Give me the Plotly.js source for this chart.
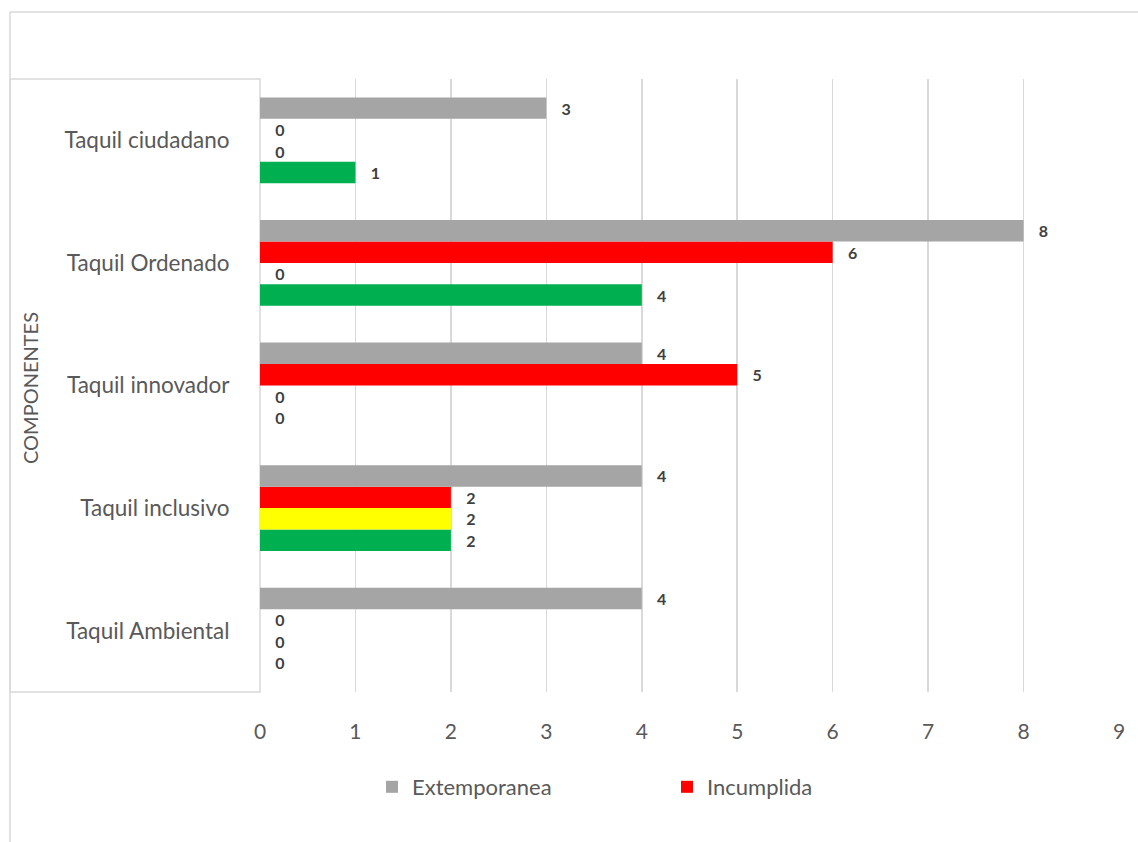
<!DOCTYPE html>
<html>
<head>
<meta charset="utf-8">
<script src="https://cdn.plot.ly/plotly-3.0.1.min.js"></script>
<style>html,body{margin:0;padding:0;background:#fff;}#chart{width:1138px;height:842px;}</style>
</head>
<body>
<div id="chart"></div>
<script>
// categories listed bottom to top
const categories = ["Taquil Ambiental", "Taquil inclusivo", "Taquil innovador", "Taquil Ordenado", "Taquil ciudadano"];
const extemporanea = [4, 4, 4, 8, 3];
const incumplida   = [0, 2, 5, 6, 0];
const amarillo     = [0, 2, 0, 0, 0];
const verde        = [0, 2, 0, 4, 1];
const xTicks = [0, 1, 2, 3, 4, 5, 6, 7, 8, 9];

const FONT = "Lato, 'Open Sans', sans-serif";
const labelFont = {family: FONT, size: 16, color: "#404040"};

function series(name, vals, color, show) {
  return {
    type: "bar", orientation: "h", name: name,
    y: categories, x: vals,
    marker: {color: color},
    text: vals.map(String),
    texttemplate: "\u00a0\u00a0\u00a0<b>%{x}</b>",
    textposition: "outside",
    constraintext: "none",
    cliponaxis: false,
    textfont: labelFont,
    showlegend: show,
    hoverinfo: "x+y"
  };
}

// Plotly draws the first trace lowest within a horizontal group
const data = [
  series("Cumplida", verde, "#00b050", false),
  series("En proceso", amarillo, "#ffff00", false),
  series("Incumplida", incumplida, "#ff0000", true),
  series("Extemporanea", extemporanea, "#a5a5a5", true)
];

const W = 1138, H = 842, L = 260, R = 19, T = 79, B = 150;
const pw = W - L - R, ph = H - T - B;
const px = v => (v - L) / pw;
const py = v => (H - B - v) / ph;
const frame = "#d9d9d9";

const layout = {
  width: W, height: H,
  margin: {l: L, r: R, t: T, b: B, pad: 0},
  paper_bgcolor: "#ffffff", plot_bgcolor: "#ffffff",
  barmode: "group", bargap: 0.3, bargroupgap: 0,
  font: {family: FONT, color: "#595959"},
  xaxis: {
    range: [0, 9], tickvals: xTicks, ticktext: xTicks.map(String),
    showgrid: true, gridcolor: frame, gridwidth: 1.5,
    zeroline: false, showline: false,
    ticks: "outside", ticklen: 21, tickcolor: "rgba(0,0,0,0)",
    tickfont: {family: FONT, size: 21, color: "#595959"},
    fixedrange: true
  },
  yaxis: {
    type: "category", categoryorder: "array", categoryarray: categories,
    showgrid: false, zeroline: false, showline: false,
    ticks: "outside", ticklen: 25, tickcolor: "rgba(0,0,0,0)",
    tickfont: {family: FONT, size: 22.5, color: "#595959"},
    fixedrange: true
  },
  legend: {
    orientation: "h", x: px(372), y: py(787), xanchor: "left", yanchor: "middle",
    traceorder: "reversed", entrywidth: 250, entrywidthmode: "pixels",
    font: {family: FONT, size: 22, color: "#595959"},
    bgcolor: "rgba(0,0,0,0)"
  },
  annotations: [{
    text: "COMPONENTES", xref: "paper", yref: "paper",
    x: px(30), y: py(388), textangle: -90, showarrow: false,
    font: {family: FONT, size: 20, color: "#595959"},
    xanchor: "center", yanchor: "middle"
  }],
  shapes: [
    {type: "line", xref: "paper", yref: "paper", x0: px(10), x1: px(1140), y0: py(12), y1: py(12), line: {color: frame, width: 1.5}},
    {type: "line", xref: "paper", yref: "paper", x0: px(10), x1: px(10), y0: py(12), y1: py(845), line: {color: frame, width: 1.5}},
    {type: "rect", xref: "paper", yref: "paper", x0: px(10), x1: 0, y0: 0, y1: 1, line: {color: frame, width: 1.5}, layer: "below"}
  ]
};

Plotly.newPlot("chart", data, layout, {displayModeBar: false, staticPlot: true});
</script>
</body>
</html>
